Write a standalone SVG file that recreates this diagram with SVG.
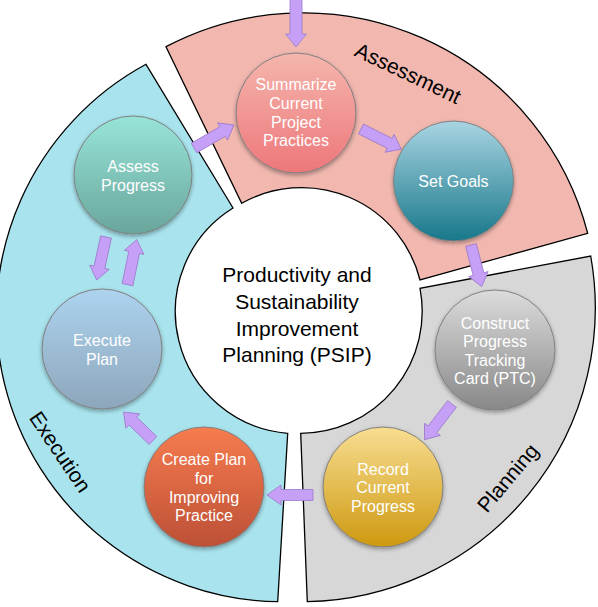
<svg xmlns="http://www.w3.org/2000/svg" width="598" height="607" viewBox="0 0 598 607">
<defs>
<linearGradient id="gSum" x1="0" y1="0" x2="0" y2="1"><stop offset="0" stop-color="#F4B6AC"/><stop offset="1" stop-color="#EE777B"/></linearGradient>
<linearGradient id="gGoal" x1="0" y1="0" x2="0" y2="1"><stop offset="0" stop-color="#A9D4E2"/><stop offset="1" stop-color="#17788A"/></linearGradient>
<linearGradient id="gAssess" x1="0" y1="0" x2="0" y2="1"><stop offset="0" stop-color="#98E4D9"/><stop offset="1" stop-color="#69A69B"/></linearGradient>
<linearGradient id="gExec" x1="0" y1="0" x2="0" y2="1"><stop offset="0" stop-color="#ADD3EF"/><stop offset="1" stop-color="#8DA6BB"/></linearGradient>
<linearGradient id="gCreate" x1="0" y1="0" x2="0" y2="1"><stop offset="0" stop-color="#F77C4F"/><stop offset="1" stop-color="#BC5036"/></linearGradient>
<linearGradient id="gPtc" x1="0" y1="0" x2="0" y2="1"><stop offset="0" stop-color="#DCDCDC"/><stop offset="1" stop-color="#888888"/></linearGradient>
<linearGradient id="gRec" x1="0" y1="0" x2="0" y2="1"><stop offset="0" stop-color="#F8DE92"/><stop offset="1" stop-color="#CE9910"/></linearGradient>
<filter id="sh" x="-20%" y="-20%" width="140%" height="150%"><feDropShadow dx="0" dy="2" stdDeviation="2" flood-color="#000" flood-opacity="0.35"/></filter>
</defs>
<style>
.seg{stroke:#000;stroke-width:1.3;stroke-linejoin:miter}
.node{stroke:#808080;stroke-width:1;filter:url(#sh)}
.nt{font-family:"Liberation Sans",Arial,Helvetica,sans-serif;font-size:16px;fill:#fff;text-anchor:middle}
.lab{font-family:"Liberation Sans",Arial,Helvetica,sans-serif;font-size:21px;fill:#000;text-anchor:middle}
.arr{fill:#C6A0F6;stroke:#9C7ACB;stroke-width:0.8;stroke-linejoin:miter}
</style>
<rect width="598" height="607" fill="#fff"/>
<g id="segments">
<g id="execution"><path class="seg" fill="#A9E4EE" d="M277.7,601.7 A286,286 0 0 1 146,64.3 L233,208 A122,122 0 0 0 287.7,433.3 Z"/>
<text class="lab" transform="translate(60,452) rotate(56)" dy="7">Execution</text></g>
<g id="assessment"><path class="seg" fill="#F2B8B0" d="M166,46.7 A294,294 0 0 1 587.7,233.3 L420,280 A122,122 0 0 0 241.7,203.3 Z"/>
<text class="lab" transform="translate(408,73.5) rotate(25.5)" dy="7">Assessment</text></g>
<g id="planning"><path class="seg" fill="#D7D7D7" d="M590.7,256 A294,294 0 0 1 307.3,601.7 L300.7,433.3 A122,122 0 0 0 420,288.3 Z"/>
<text class="lab" transform="translate(508,478) rotate(-50)" dy="7">Planning</text></g>
</g>
<g id="center">
<text class="lab" x="297" y="282">Productivity and</text>
<text class="lab" x="297" y="309">Sustainability</text>
<text class="lab" x="297" y="336">Improvement</text>
<text class="lab" x="297" y="362">Planning (PSIP)</text>
</g>
<g id="connectors">
<path class="arr" transform="translate(296,-6) rotate(90)" d="M0,-6 H40 V-10.5 L53,0 L40,10.5 V6 H0 Z"/>
<path class="arr" transform="translate(194,148) rotate(-30)" d="M0,-5.5 H33 V-10 L46,0 L33,10 V5.5 H0 Z"/>
<path class="arr" transform="translate(361,129) rotate(26.6)" d="M0,-5.5 H32 V-10 L45,0 L32,10 V5.5 H0 Z"/>
<path class="arr" transform="translate(471,245) rotate(75.6)" d="M0,-5.5 H30 V-10 L43,0 L30,10 V5.5 H0 Z"/>
<path class="arr" transform="translate(452,404) rotate(127.6)" d="M0,-5.5 H32 V-10 L45,0 L32,10 V5.5 H0 Z"/>
<path class="arr" transform="translate(313,495) rotate(180)" d="M0,-5.5 H32 V-10 L46,0 L32,10 V5.5 H0 Z"/>
<path class="arr" transform="translate(153,440.5) rotate(224)" d="M0,-5.5 H28 V-10 L41,0 L28,10 V5.5 H0 Z"/>
<path class="arr" transform="translate(127.5,284.7) rotate(-78.4)" d="M0,-5.5 H33 V-10 L46,0 L33,10 V5.5 H0 Z"/>
<path class="arr" transform="translate(106,237) rotate(102.2)" d="M0,-5.5 H31 V-10 L44,0 L31,10 V5.5 H0 Z"/>
</g>
<g id="n-summarize"><circle class="node" cx="296" cy="113" r="60" fill="url(#gSum)"/>
<text class="nt" x="296" y="90">Summarize</text><text class="nt" x="296" y="109">Current</text><text class="nt" x="296" y="127.5">Project</text><text class="nt" x="296" y="146">Practices</text></g>
<g id="n-setgoals"><circle class="node" cx="453.5" cy="181" r="60" fill="url(#gGoal)"/>
<text class="nt" x="453.5" y="186.5">Set Goals</text></g>
<g id="n-assess"><circle class="node" cx="133" cy="175" r="59" fill="url(#gAssess)"/>
<text class="nt" x="133" y="171.5">Assess</text><text class="nt" x="133" y="190.5">Progress</text></g>
<g id="n-execute"><circle class="node" cx="102" cy="349" r="60" fill="url(#gExec)"/>
<text class="nt" x="102" y="346">Execute</text><text class="nt" x="102" y="365">Plan</text></g>
<g id="n-create"><circle class="node" cx="204" cy="487" r="60" fill="url(#gCreate)"/>
<text class="nt" x="204" y="464.5">Create Plan</text><text class="nt" x="204" y="484">for</text><text class="nt" x="204" y="502.5">Improving</text><text class="nt" x="204" y="521">Practice</text></g>
<g id="n-ptc"><circle class="node" cx="495" cy="350" r="60" fill="url(#gPtc)"/>
<text class="nt" x="495" y="328.5">Construct</text><text class="nt" x="495" y="347">Progress</text><text class="nt" x="495" y="365.5">Tracking</text><text class="nt" x="495" y="384">Card (PTC)</text></g>
<g id="n-record"><circle class="node" cx="383" cy="487" r="60" fill="url(#gRec)"/>
<text class="nt" x="383" y="474.5">Record</text><text class="nt" x="383" y="493">Current</text><text class="nt" x="383" y="511.5">Progress</text></g>
</svg>
